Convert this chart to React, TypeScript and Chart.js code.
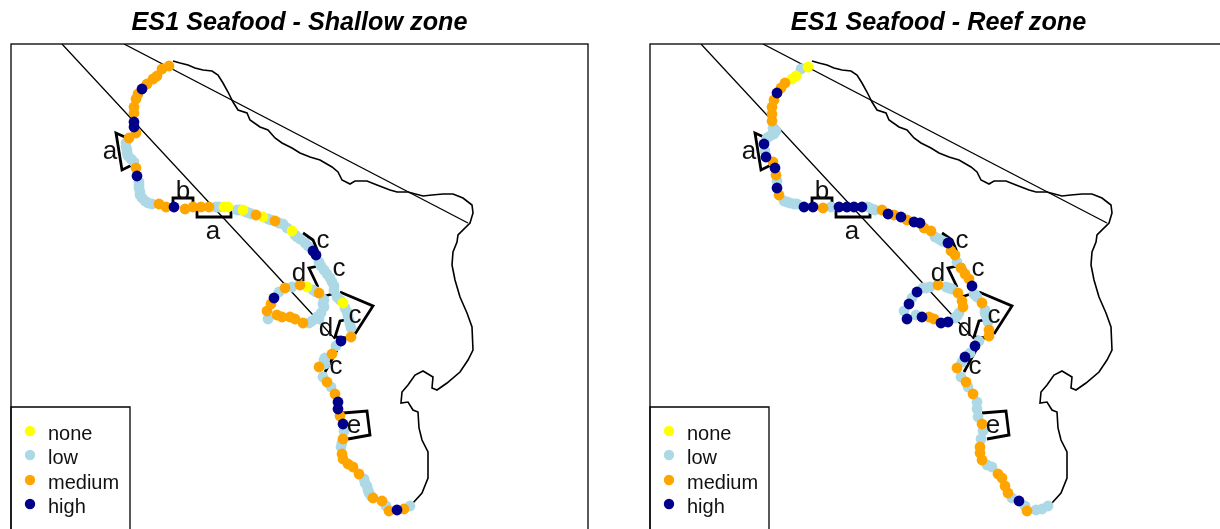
import React, { useEffect, useRef } from "react";
import { Chart, registerables } from "chart.js";

Chart.register(...registerables);

type P = [number, number];

// All geometry is in map units.
const coast: P[] = [
  [173,61],[180,63],[188,65],[195,68],[203,70],[212,71],[218,75],[223,83],[228,92],[233,102],[238,110],[247,113],[250,120],[260,127],[268,130],[275,138],[282,143],[292,148],[300,153],[310,157],[320,160],[332,167],[338,172],[342,180],[350,184],[355,181],[367,181],[377,185],[390,190],[397,192],[408,192],[423,196],[432,195],[443,194],[453,194],[463,198],[472,205],[473,213],[470,223],
  [458,235],[457,242],[453,252],[452,265],[455,280],[460,297],[467,313],[472,327],[473,350],[468,360],[460,372],[447,383],[437,390],[432,388],[433,377],[423,371],[415,375],[408,385],[402,392],[401,403],[408,402],[413,410],[418,412],[419,428],[422,440],[428,452],[428,478],[422,493],[413,503],
];
const zoneLineA: P[] = [[62,44],[267,265],[313,315],[335,339]];
const zoneLineB: P[] = [[124,44],[468,223]];

const brackets: P[][] = [
  [[127,138],[116,133],[122,170],[134,164]],
  [[173,207],[173,198],[193,198],[193,207]],
  [[197,208],[197,217],[231,217],[231,208]],
  [[303,233],[313,240],[318,252]],
  [[318,287],[309,268],[324,265],[332,280]],
  [[322,297],[332,294]],
  [[340,292],[373,306],[355,334]],
  [[347,338],[335,337],[340,321],[345,320]],
  [[325,372],[337,350]],
  [[343,413],[367,411],[370,435],[348,439]],
];

const bracketLabels = ["a", "b", "a", "c", "d", "c", "c", "d", "c", "e"];
const bracketLabelAt: P[] = [[110,152],[183,192],[213,232],[323,241],[299,274],[339,269],[355,316],[326,329],[336,367],[354,426]];

const categories = ["none", "low", "medium", "high"];
const categoryColors = ["#ffff00", "#add8e6", "#ffa500", "#00008b"];

const shallowNone: P[] = [[224,207],[228,207],[243,210],[263,217],[292,231],[343,303],[307,287]];
const shallowLow: P[] = [
  [126,143],[126,147],[127,150],[127,153],[128,156],[131,159],[134,162],[139,182],[139,185],[139,188],[140,192],[140,195],[142,198],[145,201],[148,203],[152,204],[216,207],[219,207],[237,210],[240,210],[246,212],[249,213],[252,214],[268,219],[271,220],[279,223],[283,224],[287,228],[295,235],[297,237],[300,239],[305,243],[308,246],[319,262],[321,266],[324,270],[327,274],[330,278],[332,282],[334,286],[334,290],[337,297],[340,300],[345,308],[347,312],[348,316],[349,320],[350,324],[351,328],[336,346],[325,358],[313,290],[316,292],[292,287],[279,292],[268,319],[309,323],[312,321],[317,317],[319,319],[321,313],[323,304],[324,307],[324,300],[324,360],[325,364],[323,377],[331,387],[344,431],[342,443],[341,447],[364,479],[365,483],[367,486],[368,490],[369,493],[371,496],[386,506],[410,506],
];
const shallowMedium: P[] = [
  [169,66],[162,69],[157,76],[153,79],[147,84],[138,94],[136,99],[134,107],[134,113],[136,133],[129,138],[136,168],[159,204],[166,207],[185,209],[193,207],[201,207],[209,207],[256,215],[275,221],[351,337],[332,354],[319,367],[319,293],[300,285],[285,288],[271,304],[267,311],[277,315],[282,317],[290,317],[295,319],[303,323],[327,382],[335,394],[340,416],[343,439],[342,454],[343,459],[348,464],[353,467],[359,474],[373,498],[382,501],[389,511],[404,509],
];
const shallowHigh: P[] = [[142,89],[134,122],[134,127],[137,176],[174,207],[313,251],[316,255],[341,341],[274,298],[338,402],[338,409],[343,424],[397,510]];

const reefNone: P[] = [[169,67],[157,76],[153,79]];
const reefLow: P[] = [
  [162,69],[134,128],[135,134],[137,131],[131,136],[128,138],[126,151],[138,181],[145,201],[148,202],[151,203],[155,204],[158,204],[192,207],[229,207],[233,209],[236,210],[296,237],[300,239],[303,241],[306,242],[318,262],[335,294],[336,295],[338,297],[346,310],[346,313],[347,315],[348,318],[349,322],[340,341],[331,353],[323,362],[313,289],[310,288],[307,287],[291,287],[287,288],[284,288],[273,298],[265,311],[277,315],[316,318],[318,316],[320,313],[322,377],[329,387],[338,402],[338,409],[339,417],[344,431],[342,439],[348,465],[353,467],[373,498],[386,506],[397,510],[403,509],[409,506],
];
const reefMedium: P[] = [
  [146,83],[142,88],[135,100],[133,107],[133,114],[133,121],[134,162],[137,175],[140,195],[184,208],[243,210],[255,215],[268,220],[285,228],[292,231],[312,251],[316,255],[322,268],[326,274],[330,279],[343,303],[350,330],[350,336],[318,368],[319,293],[299,285],[290,317],[295,319],[324,307],[323,301],[327,382],[334,394],[343,424],[341,447],[341,453],[343,460],[359,474],[363,478],[366,486],[369,493],[388,511],
];
const reefHigh: P[] = [
  [138,93],[125,144],[127,157],[136,168],[138,188],[165,207],[174,207],[200,207],[208,207],[215,207],[223,207],[249,214],[262,217],[275,222],[281,223],[309,243],[333,286],[336,346],[326,357],[278,292],[270,304],[268,319],[283,317],[302,323],[309,322],[380,501],
];

const titles = ["ES1 Seafood - Shallow zone", "ES1 Seafood - Reef zone"];
const panels: P[][][] = [
  [shallowNone, shallowLow, shallowMedium, shallowHigh],
  [reefNone, reefLow, reefMedium, reefHigh],
];

const TEXT_FONT = '"Liberation Sans", Arial, sans-serif';

const xy = (pts: P[]) => pts.map(([x, y]) => ({ x, y }));

const annotations = {
  id: "annotations",
  afterDatasetsDraw(chart: any) {
    const { ctx, chartArea: a, scales } = chart;
    const X = (v: number) => scales.x.getPixelForValue(v);
    const Y = (v: number) => scales.y.getPixelForValue(v);
    ctx.save();
    // frame
    ctx.strokeStyle = "#000";
    ctx.lineWidth = 1.3;
    ctx.strokeRect(a.left, a.top, a.right - a.left, a.bottom - a.top + 6);
    // bracket letters
    ctx.fillStyle = "#111";
    ctx.textAlign = "center";
    ctx.textBaseline = "middle";
    ctx.font = `26px ${TEXT_FONT}`;
    bracketLabels.forEach((t, i) => ctx.fillText(t, X(bracketLabelAt[i][0]), Y(bracketLabelAt[i][1])));
    // legend
    ctx.beginPath();
    ctx.moveTo(X(11), Y(529) + 6);
    ctx.lineTo(X(11), Y(407));
    ctx.lineTo(X(130), Y(407));
    ctx.lineTo(X(130), Y(529) + 6);
    ctx.stroke();
    ctx.font = `20px ${TEXT_FONT}`;
    ctx.textAlign = "left";
    ctx.textBaseline = "alphabetic";
    categories.forEach((c, i) => {
      const cy = [431, 455, 480, 504][i];
      ctx.fillStyle = categoryColors[i];
      ctx.beginPath();
      ctx.arc(X(30), Y(cy), 5.2, 0, Math.PI * 2);
      ctx.fill();
      ctx.fillStyle = "#111";
      ctx.fillText(c, X(48), Y(cy + 9));
    });
    ctx.restore();
  },
};

function MapPanel({ index, left }: { index: number; left: number }) {
  const ref = useRef<HTMLCanvasElement>(null);
  useEffect(() => {
    const series = panels[index];
    const lineSet = (pts: P[], width: number) => ({
      data: xy(pts),
      showLine: true,
      borderColor: "#000",
      borderWidth: width,
      pointRadius: 0,
      fill: false,
      tension: 0,
    });
    const pointSet = (i: number) => ({
      label: categories[i],
      data: xy(series[i]),
      backgroundColor: categoryColors[i],
      borderWidth: 0,
      pointRadius: 5.4,
      pointHoverRadius: 5.4,
    });
    const chart = new Chart(ref.current!, {
      type: "scatter",
      data: {
        datasets: [
          // the first dataset is painted last
          pointSet(3),
          pointSet(2),
          pointSet(0),
          pointSet(1),
          ...brackets.map((b) => lineSet(b, 2.8)),
          lineSet(zoneLineA, 1.3),
          lineSet(zoneLineB, 1.3),
          lineSet(coast, 1.6),
        ] as any,
      },
      options: {
        responsive: false,
        animation: false,
        events: [],
        layout: { autoPadding: false, padding: { left: 11, right: 22, top: 8, bottom: 0 } },
        scales: {
          x: { type: "linear", min: 11, max: 588, display: false },
          y: { type: "linear", min: 44, max: 529, reverse: true, display: false },
        },
        plugins: {
          legend: { display: false },
          tooltip: { enabled: false },
          title: {
            display: true,
            text: titles[index],
            color: "#000",
            font: { family: TEXT_FONT, size: 25.2, weight: "bold", style: "italic", lineHeight: 1.2 },
            padding: { top: 0, bottom: 5.76 },
          },
        },
      },
      plugins: [annotations],
    } as any);
    return () => chart.destroy();
  }, [index]);
  return (
    <canvas
      ref={ref}
      width={610}
      height={529}
      style={{ position: "absolute", left, top: 0, width: 610, height: 529, display: "block" }}
    />
  );
}

export default function App() {
  return (
    <div style={{ position: "absolute", left: 0, top: 0, width: 1220, height: 529, overflow: "hidden", background: "#fff" }}>
      <MapPanel index={0} left={0} />
      <MapPanel index={1} left={639} />
    </div>
  );
}
